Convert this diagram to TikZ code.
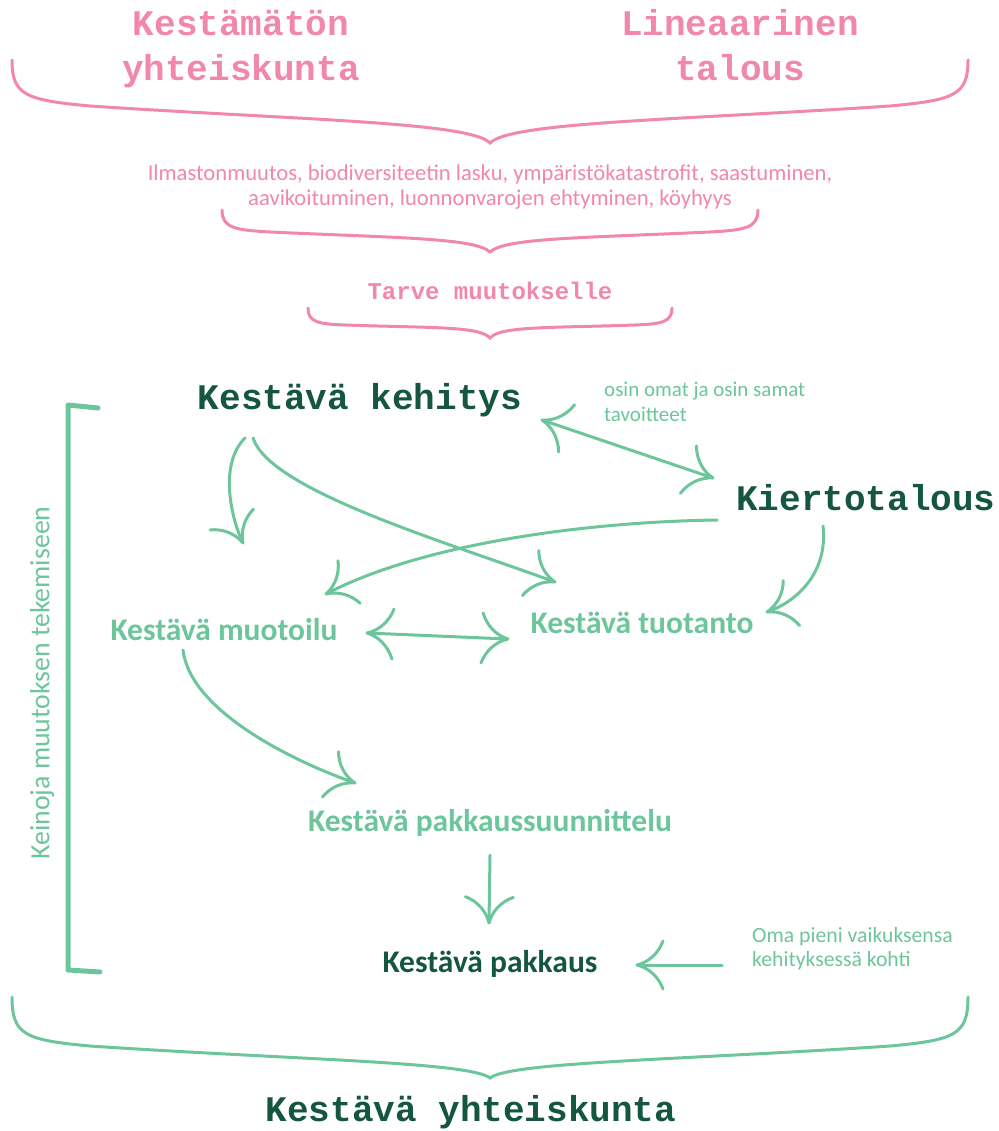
\documentclass[tikz,border=0pt]{standalone}
\usepackage{fontspec}
\setmainfont{Carlito}
\newfontfamily\courfont{Liberation Mono}
\usetikzlibrary{arrows.meta}
\definecolor{pinkc}{RGB}{241,135,170}
\definecolor{lgreen}{RGB}{108,197,155}
\definecolor{dgreen}{RGB}{20,86,64}
\pgfdeclarearrow{
  name = HandBarb,
  parameters = {\the\pgfarrowlength,\the\pgfarrowwidth,\the\pgfarrowlinewidth},
  setup code = {
    \pgfarrowssettipend{0pt}
    \pgfarrowssetlineend{-.5\pgfarrowlinewidth}
    \pgfarrowssetbackend{-\pgfarrowlength}
    \pgfarrowssetvisualbackend{-\pgfarrowlength}
    \pgfarrowsupperhullpoint{-\pgfarrowlength}{.5\pgfarrowwidth}
    \pgfarrowshullpoint{0pt}{0pt}
    \pgfarrowssavethe\pgfarrowlength
    \pgfarrowssavethe\pgfarrowwidth
    \pgfarrowssavethe\pgfarrowlinewidth
  },
  drawing code = {
    \pgfsetdash{}{+0pt}
    \pgfsetlinewidth{\pgfarrowlinewidth}
    \pgfsetroundcap
    \pgfsetroundjoin
    \pgfpathmoveto{\pgfqpoint{-\pgfarrowlength}{.5\pgfarrowwidth}}
    \pgfpathcurveto
      {\pgfqpoint{-.84\pgfarrowlength}{.26\pgfarrowwidth}}
      {\pgfqpoint{-.48\pgfarrowlength}{.065\pgfarrowwidth}}
      {\pgfpointorigin}
    \pgfpathcurveto
      {\pgfqpoint{-.48\pgfarrowlength}{-.065\pgfarrowwidth}}
      {\pgfqpoint{-.84\pgfarrowlength}{-.26\pgfarrowwidth}}
      {\pgfqpoint{-\pgfarrowlength}{-.5\pgfarrowwidth}}
    \pgfusepathqstroke
  },
  defaults = {length=26pt, width=48pt}
}
\tikzset{
  monobig/.style={font=\courfont\bfseries\fontsize{36}{45}\selectfont, align=center, inner sep=0pt},
  monosmall/.style={font=\courfont\bfseries\fontsize{24}{28}\selectfont, inner sep=0pt},
  calbold/.style={font=\bfseries\fontsize{31.5}{36}\selectfont, inner sep=0pt},
  calnote/.style={font=\fontsize{21}{25}\selectfont, inner sep=0pt},
  bracestyle/.style={line width=3pt, line cap=round},
  arr/.style={draw=lgreen, line width=3pt, line cap=round,
    -{HandBarb[line width=3pt]}},
  dblarr/.style={draw=lgreen, line width=3pt, line cap=round,
    {HandBarb[line width=3pt,width=50pt]}-{HandBarb[line width=3pt,width=50pt]}}
}
\begin{document}
\begin{tikzpicture}[x=1pt,y=-1pt]
\useasboundingbox (0,0) rectangle (998,1131);

% top texts
\node[monobig, pinkc, anchor=base] (kest) at (241,81) {Kestämätön\\yhteiskunta};
\node[monobig, pinkc, anchor=base] (lin) at (740,81) {Lineaarinen\\talous};
\draw[bracestyle, pinkc] (12,60) .. controls (12,95) and (25,100) .. (90,106)
  .. controls (300,120) and (470,122) .. (490,143)
  .. controls (510,122) and (680,120) .. (890,106)
  .. controls (955,100) and (968,95) .. (968,60);

\node[calnote, font=\fontsize{22.6}{25}\selectfont, pinkc, align=center, anchor=base] (ilm) at (490,206)
  {Ilmastonmuutos, biodiversiteetin lasku, ympäristökatastrofit, saastuminen,\\aavikoituminen, luonnonvarojen ehtyminen, köyhyys};
\draw[bracestyle, pinkc] (222,210) .. controls (222,228) and (235,230) .. (270,232)
  .. controls (400,238) and (475,238) .. (490,252)
  .. controls (505,238) and (580,238) .. (710,232)
  .. controls (745,230) and (758,228) .. (758,210);

\node[monosmall, pinkc, anchor=base] (tarve) at (490,299) {Tarve muutokselle};
\draw[bracestyle, pinkc] (308,308) .. controls (308,322) and (318,324) .. (345,325)
  .. controls (430,328) and (480,326) .. (490,338)
  .. controls (500,326) and (550,328) .. (635,325)
  .. controls (662,324) and (672,322) .. (672,308);

% main nodes
\node[monobig, dgreen, anchor=base] (kk) at (360,409) {Kestävä kehitys};
\node[monobig, dgreen, anchor=base] (kt) at (866,510) {Kiertotalous};
\node[calnote, lgreen, align=left, anchor=base west] (osin) at (604,421) {osin omat ja osin samat\\tavoitteet};
\node[calbold, lgreen, anchor=base] (km) at (224,640) {Kestävä muotoilu};
\node[calbold, lgreen, anchor=base] (ktu) at (642,633) {Kestävä tuotanto};
\node[calbold, lgreen, anchor=base] (kps) at (490,831) {Kestävä pakkaussuunnittelu};
\node[calbold, dgreen, anchor=base] (kp) at (490,972) {Kestävä pakkaus};
\node[calnote, font=\fontsize{21.7}{24}\selectfont, lgreen, align=left, anchor=base west] (oma) at (752,966) {Oma pieni vaikuksensa\\kehityksessä kohti};
\node[font=\fontsize{27.8}{30}\selectfont, lgreen, rotate=90, inner sep=0pt] (kein) at (42,683) {Keinoja muutoksen tekemiseen};

% bracket
\draw[lgreen, line width=5pt, line cap=round, line join=round] (98,408) -- (68,405) -- (68,970) -- (100,972);

% connector endpoints
\coordinate (kk-o1) at (245,438);
\coordinate (km-i1) at (243,543);
\coordinate (kk-o2) at (253,438);
\coordinate (ktu-i1) at (555,582);
\coordinate (kt-o1) at (717,520);
\coordinate (km-i2) at (326,594);
\coordinate (kt-o2) at (823,526);
\coordinate (ktu-i2) at (767,612);
\coordinate (kk-e) at (542,420);
\coordinate (kt-e) at (713,478);
\coordinate (km-e) at (367,633);
\coordinate (ktu-e) at (508,639);
\coordinate (km-o) at (183,650);
\coordinate (kps-i) at (355,783);
\coordinate (kps-o) at (490,855);
\coordinate (kp-i1) at (489,923);
\coordinate (oma-o) at (722,965);
\coordinate (kp-i2) at (637,965);

\draw[arr] (kk-o1) .. controls (218,465) and (232,520) .. (km-i1);
\draw[arr] (kk-o2) .. controls (270,490) and (440,540) .. (ktu-i1);
\draw[arr] (kt-o1) .. controls (580,522) and (420,545) .. (km-i2);
\draw[arr] (kt-o2) .. controls (828,570) and (800,600) .. (ktu-i2);
\draw[dblarr] (kk-e) -- (kt-e);
\draw[dblarr] (km-e) -- (ktu-e);
\draw[arr] (km-o) .. controls (190,710) and (290,760) .. (kps-i);
\draw[arr] (kps-o) -- (kp-i1);
\draw[arr] (oma-o) -- (kp-i2);

% bottom
\draw[bracestyle, lgreen] (12,997) .. controls (12,1035) and (25,1040) .. (90,1046)
  .. controls (300,1060) and (470,1062) .. (490,1078)
  .. controls (510,1062) and (680,1060) .. (890,1046)
  .. controls (955,1040) and (968,1035) .. (968,997);
\node[monobig, dgreen, anchor=base] (ky) at (471,1121) {Kestävä yhteiskunta};
\end{tikzpicture}
\end{document}
